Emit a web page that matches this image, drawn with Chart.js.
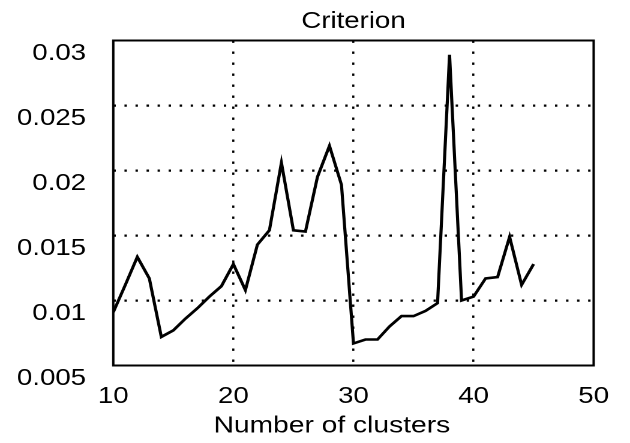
<!DOCTYPE html>
<html>
<head>
<meta charset="utf-8">
<script src="https://cdn.jsdelivr.net/npm/chart.js@4/dist/chart.umd.min.js"></script>
<style>
  html, body { margin: 0; padding: 0; background: #fff; }
  #c { display: block; width: 630px; height: 443px; }
</style>
</head>
<body>
<canvas id="c" width="525" height="443" style="width:630px;height:443px;"></canvas>
<script>
// ---- data ----
const clusters = [10, 11, 12, 13, 14, 15, 16, 17, 18, 19, 20, 21, 22, 23, 24, 25, 26, 27,
                  28, 29, 30, 31, 32, 33, 34, 35, 36, 37, 38, 39, 40, 41, 42, 43, 44, 45];
const criterion = [0.0091, 0.0112, 0.01335, 0.0117, 0.0072, 0.0077, 0.0086, 0.0094, 0.0103,
                   0.0111, 0.0128, 0.0108, 0.0143, 0.0154, 0.0206, 0.0154, 0.0153, 0.0195,
                   0.0219, 0.0189, 0.0067, 0.0070, 0.0070, 0.0080, 0.0088, 0.0088, 0.0092,
                   0.0098, 0.0289, 0.0100, 0.0103, 0.0117, 0.0118, 0.0149, 0.0112, 0.0128];
const xTicks = [10, 20, 30, 40, 50];
const yTicks = [0.005, 0.01, 0.015, 0.02, 0.025, 0.03];
const chartTitle = 'Criterion';
const xTitle = 'Number of clusters';

const FONT = '"Liberation Sans", Arial, Helvetica, sans-serif';
const points = clusters.map((x, i) => ({ x: x, y: criterion[i] }));

// solid frame round the plot area and the x-axis title (placed as in the reference)
const frame = {
  id: 'frame',
  afterDraw(chart) {
    const { ctx, chartArea: a } = chart;
    ctx.save();
    ctx.strokeStyle = '#000';
    ctx.lineWidth = 2;
    ctx.setLineDash([]);
    ctx.strokeRect(a.left, a.top, a.right - a.left, a.bottom - a.top);
    ctx.fillStyle = '#000';
    ctx.font = '23.5px ' + FONT;
    ctx.textAlign = 'center';
    ctx.textBaseline = 'middle';
    ctx.fillText(xTitle, a.left + (a.right - a.left) * 0.455, 426);
    ctx.restore();
  }
};

const xMin = xTicks[0], xMax = xTicks[xTicks.length - 1];
const yMin = yTicks[0], yMax = yTicks[yTicks.length - 1];

new Chart(document.getElementById('c'), {
  type: 'line',
  data: {
    datasets: [{
      data: points,
      borderColor: '#000',
      borderWidth: 2.6,
      pointRadius: 0,
      tension: 0,
      fill: false,
      borderJoinStyle: 'miter'
    }]
  },
  options: {
    responsive: false,
    devicePixelRatio: 2,
    animation: false,
    layout: { padding: { left: 0, right: 21.7, top: 0, bottom: 0 } },
    plugins: {
      legend: { display: false },
      tooltip: { enabled: false },
      title: {
        display: true,
        fullSize: false,
        text: chartTitle,
        color: '#000',
        font: { family: FONT, size: 23, weight: 'normal' },
        padding: { top: 8, bottom: 4.9 }
      }
    },
    scales: {
      x: {
        type: 'linear',
        min: xMin, max: xMax,
        afterBuildTicks(scale) { scale.ticks = xTicks.map(v => ({ value: v })); },
        afterFit(scale) { scale.height = 77.5; },
        grid: {
          drawTicks: false,
          lineWidth: 1.8,
          color: ctx => (ctx.tick && (ctx.tick.value === xMin || ctx.tick.value === xMax)) ? 'rgba(0,0,0,0)' : '#000'
        },
        border: { display: false, dash: [2.4, 8.6] },
        ticks: {
          color: '#000',
          padding: 17.5,
          font: { family: FONT, size: 23 },
          maxRotation: 0,
          callback: v => String(v)
        }
      },
      y: {
        type: 'linear',
        min: yMin, max: yMax,
        afterBuildTicks(scale) { scale.ticks = yTicks.map(v => ({ value: v })); },
        afterFit(scale) { scale.width = 94.4; },
        grid: {
          drawTicks: false,
          lineWidth: 2.2,
          color: ctx => (ctx.tick && (ctx.tick.value === yMin || ctx.tick.value === yMax)) ? 'rgba(0,0,0,0)' : '#000'
        },
        border: { display: false, dash: [2, 7.2] },
        ticks: {
          color: '#000',
          padding: 22.7,
          labelOffset: 13,
          font: { family: FONT, size: 23 },
          callback: v => String(+v.toFixed(3))
        }
      }
    }
  },
  plugins: [frame]
});
</script>
</body>
</html>
